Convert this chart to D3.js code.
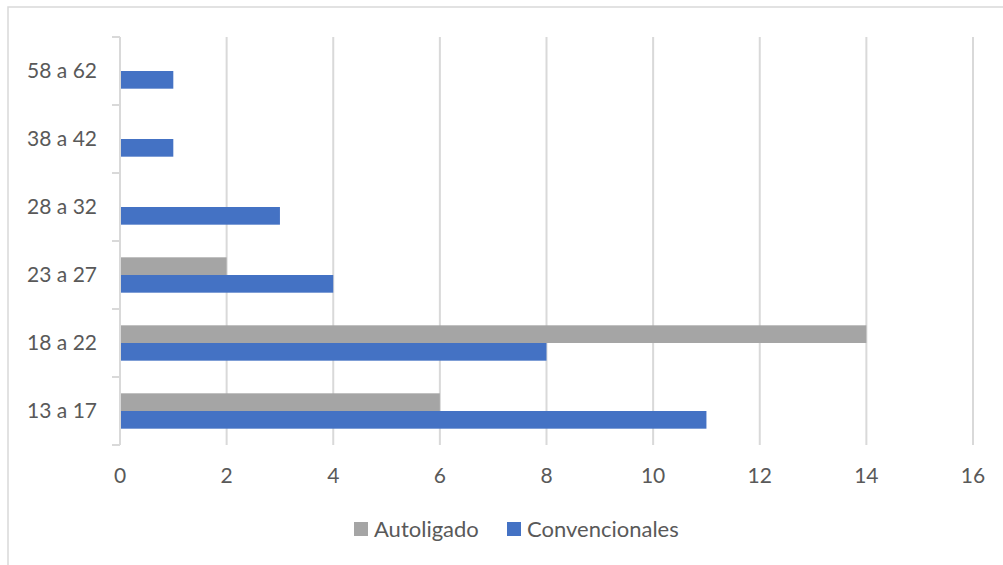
<!DOCTYPE html>
<html>
<head>
<meta charset="utf-8">
<script src="https://cdn.jsdelivr.net/npm/d3@7"></script>
<style>
  body { margin: 0; background: #fff; }
  svg text { font-family: Lato, "Noto Sans", sans-serif; fill: #595959; }
</style>
</head>
<body>
<script>
// age groups, bottom to top as in the chart
var categories = ['13 a 17', '18 a 22', '23 a 27', '28 a 32', '38 a 42', '58 a 62'];
var autoligado = [6, 14, 2, 0, 0, 0];
var convencionales = [11, 8, 4, 3, 1, 1];
var xTicks = [0, 2, 4, 6, 8, 10, 12, 14, 16];
var seriesNames = ['Autoligado', 'Convencionales'];
var seriesColors = ['#A5A5A5', '#4472C4'];

var W = 1003, H = 565;
var plot = {left: 120, right: 973, top: 37, bottom: 445};

var svg = d3.select('body').append('svg')
            .attr('width', W)
            .attr('height', H);

// chart border (runs off the right and bottom of the picture)
svg.append('rect')
   .attr('x', 8).attr('y', 7)
   .attr('width', W + 20).attr('height', H + 20)
   .attr('fill', 'none')
   .attr('stroke', '#d9d9d9')
   .attr('stroke-width', 1.5);

var x = d3.scaleLinear().domain([0, 16]).range([plot.left, plot.right]);
var y = d3.scaleBand().domain(categories.slice().reverse())
          .range([plot.top, plot.bottom])
          .paddingInner(0.48).paddingOuter(0.24);
var ySub = d3.scaleBand().domain(seriesNames).range([0, y.bandwidth()]);

// vertical gridlines
svg.append('g').selectAll('line').data(xTicks.slice(1))
   .enter().append('line')
   .attr('x1', function(d) {return x(d)})
   .attr('x2', function(d) {return x(d)})
   .attr('y1', plot.top).attr('y2', plot.bottom)
   .attr('stroke', '#d9d9d9').attr('stroke-width', 2);

// bars
var rows = categories.map(function(c, i) {
  return [
    {cat: c, s: seriesNames[0], v: autoligado[i], color: seriesColors[0]},
    {cat: c, s: seriesNames[1], v: convencionales[i], color: seriesColors[1]}
  ];
});
svg.append('g').selectAll('rect').data(d3.merge(rows))
   .enter().append('rect')
   .attr('x', x(0))
   .attr('y', function(d) {return y(d.cat) + ySub(d.s)})
   .attr('width', function(d) {return x(d.v) - x(0)})
   .attr('height', ySub.bandwidth())
   .attr('fill', function(d) {return d.color});

// y axis line + tick marks at band edges
var step = y.step();
var edges = d3.range(categories.length + 1).map(function(i) {return plot.top + i * step});
svg.append('line')
   .attr('x1', x(0)).attr('x2', x(0))
   .attr('y1', plot.top).attr('y2', plot.bottom)
   .attr('stroke', '#d9d9d9').attr('stroke-width', 2);
svg.append('g').selectAll('line').data(edges)
   .enter().append('line')
   .attr('x1', x(0) - 8).attr('x2', x(0))
   .attr('y1', function(d) {return d}).attr('y2', function(d) {return d})
   .attr('stroke', '#d9d9d9').attr('stroke-width', 2);

// category labels
svg.append('g').selectAll('text').data(categories)
   .enter().append('text')
   .attr('x', 97)
   .attr('y', function(d) {return y(d) + y.bandwidth() / 2})
   .attr('dy', '0.35em')
   .attr('text-anchor', 'end')
   .style('font-size', '21px')
   .text(function(d) {return d});

// x tick labels
svg.append('g').selectAll('text').data(xTicks)
   .enter().append('text')
   .attr('x', function(d) {return x(d)})
   .attr('y', 476)
   .attr('dy', '0.35em')
   .attr('text-anchor', 'middle')
   .style('font-size', '21px')
   .text(function(d) {return d});

// legend
var legendX = [354, 507];
var legend = svg.append('g').selectAll('g').data(seriesNames)
   .enter().append('g')
   .attr('transform', function(d, i) {return 'translate(' + legendX[i] + ',522)'});
legend.append('rect')
   .attr('width', 14).attr('height', 14)
   .attr('fill', function(d, i) {return seriesColors[i]});
legend.append('text')
   .attr('x', 20).attr('y', 7)
   .attr('dy', '0.35em')
   .style('font-size', '22px')
   .text(function(d) {return d});
</script>
</body>
</html>
